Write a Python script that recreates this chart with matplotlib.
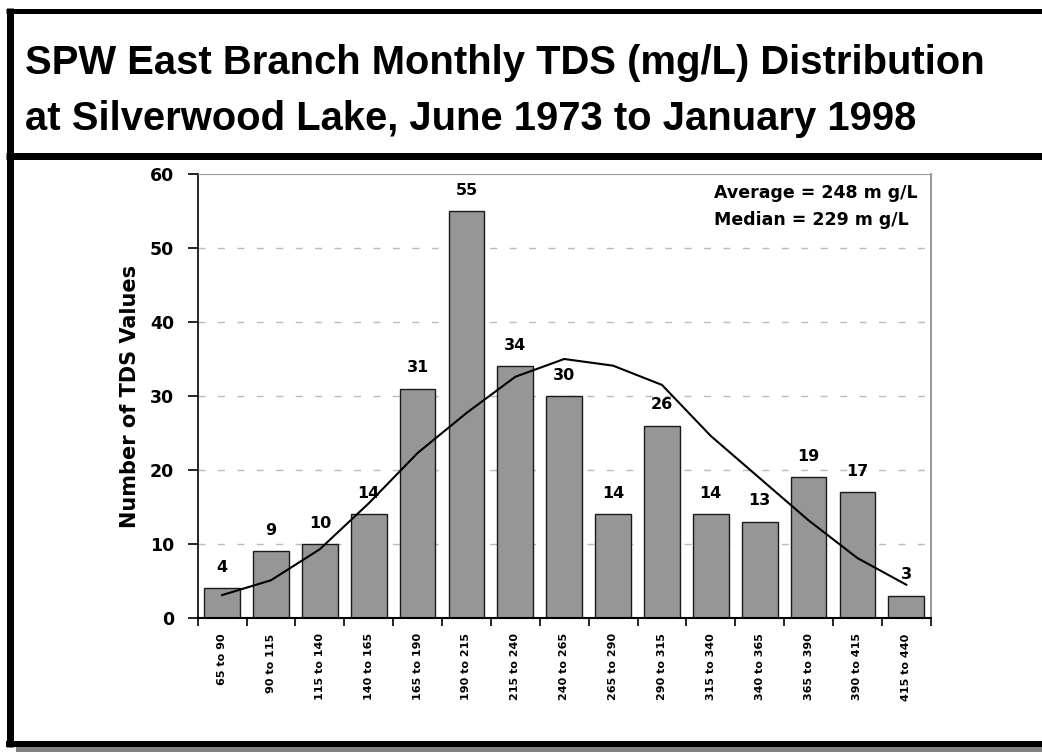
import numpy as np
import matplotlib.pyplot as plt
from matplotlib.lines import Line2D
from matplotlib.patches import Rectangle

plt.rcParams['font.family'] = ['Liberation Sans', 'DejaVu Sans']
WIDE = ['DejaVu Sans']

# data
bins = ["65 to 90", "90 to 115", "115 to 140", "140 to 165", "165 to 190",
        "190 to 215", "215 to 240", "240 to 265", "265 to 290", "290 to 315",
        "315 to 340", "340 to 365", "365 to 390", "390 to 415", "415 to 440"]
counts = [4, 9, 10, 14, 31, 55, 34, 30, 14, 26, 14, 13, 19, 17, 3]
fit_curve = [3.1, 5.1, 9.3, 15.5, 22.3, 27.7, 32.6, 35.0, 34.1, 31.5,
             24.6, 18.9, 13.2, 8.1, 4.5]
yticks = [0, 10, 20, 30, 40, 50, 60]

W, H = 1042, 752
fig = plt.figure(figsize=(W / 100, H / 100), dpi=100)


def fx(px):
    return px / W


def fy(py):
    return 1 - py / H


# outer frame and title box
fig.add_artist(Rectangle((fx(16), fy(752)), fx(1042 - 16), 5 / H,
                         transform=fig.transFigure, color="#808080", lw=0))
for xs, ys, lw in [([9.5, 9.5], [8, 747], 7),
                   ([6, 1042], [10.5, 10.5], 5),
                   ([6, 1042], [155.5, 155.5], 7),
                   ([6, 1042], [744, 744], 6)]:
    fig.add_artist(Line2D([fx(v) for v in xs], [fy(v) for v in ys],
                          transform=fig.transFigure, color="black",
                          lw=lw * 0.72, solid_capstyle="butt"))

fig.text(fx(25), fy(63), "SPW East Branch Monthly TDS (mg/L) Distribution",
         fontsize=28.8, fontweight="bold", va="center", ha="left")
fig.text(fx(25), fy(119), "at Silverwood Lake, June 1973 to January 1998",
         fontsize=28.8, fontweight="bold", va="center", ha="left")

ax = fig.add_axes([fx(197.7), fy(618), (930.7 - 197.7) / W, (618 - 174) / H])
x = np.arange(len(bins))
ax.bar(x, counts, width=0.73, color="#969696", edgecolor="#1a1a1a",
       linewidth=1.0, zorder=2)
ax.plot(x, fit_curve, color="black", lw=1.5, zorder=3)

for xi, c in zip(x, counts):
    ax.text(xi, c + 1.8, str(c), ha="center", va="bottom", family=WIDE,
            fontsize=11.5, fontweight="bold", zorder=4)

ax.set_xlim(-0.5, len(bins) - 0.5)
ax.set_ylim(0, 60)
ax.set_yticks(yticks)
ax.set_yticklabels([str(v) for v in yticks], fontsize=12.5,
                   fontweight="bold", family=WIDE)
ax.set_xticks(x)
ax.set_xticklabels(bins, rotation=90, fontsize=8, fontweight="bold",
                   family=WIDE)
ax.set_xticks(np.arange(-0.5, len(bins)), minor=True)
ax.tick_params(axis="x", which="major", length=0, pad=11)
ax.tick_params(axis="x", which="minor", length=6, width=1.2, direction="out")
ax.tick_params(axis="y", length=7, width=1.2, pad=10)

for v in yticks[1:-1]:
    ax.axhline(v, color="#bbbbbb", lw=1, ls=(0, (5, 9)), zorder=1)

ax.spines["left"].set_color("black")
ax.spines["left"].set_linewidth(1.2)
ax.spines["bottom"].set_color("black")
ax.spines["bottom"].set_linewidth(1.5)
ax.spines["top"].set_color("#999999")
ax.spines["right"].set_color("#888888")
ax.spines["right"].set_linewidth(1.2)

ax.set_ylabel("Number of TDS Values", fontsize=15, fontweight="bold",
              family=WIDE, labelpad=7)

ax.text(0.705, 0.957, "Average = 248 m g/L", transform=ax.transAxes,
        fontsize=12.5, fontweight="bold", family=WIDE, va="center", ha="left")
ax.text(0.705, 0.896, "Median = 229 m g/L", transform=ax.transAxes,
        fontsize=12.5, fontweight="bold", family=WIDE, va="center", ha="left")

fig.savefig("out.png", dpi=100)
